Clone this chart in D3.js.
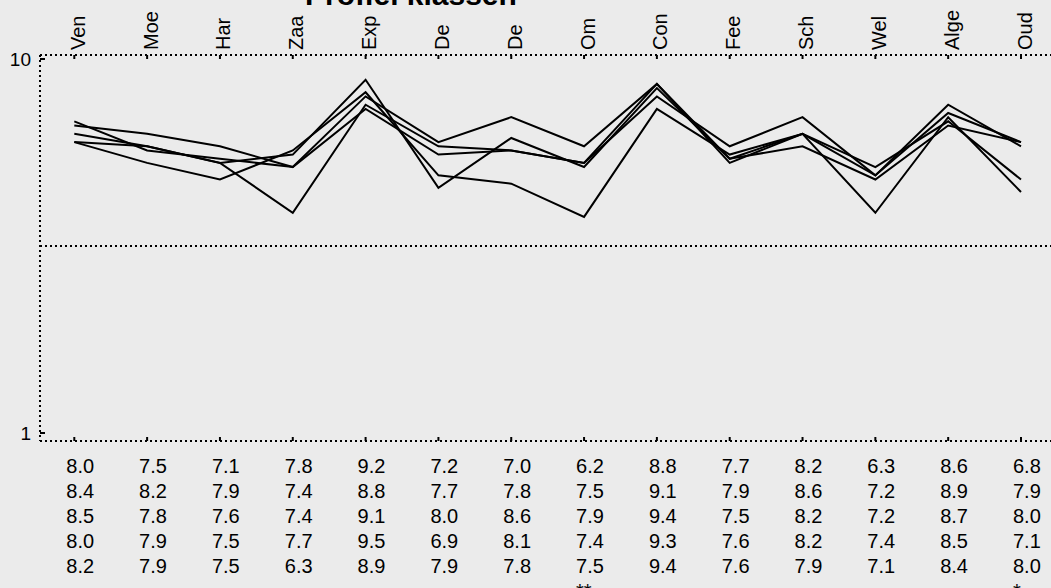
<!DOCTYPE html>
<html>
<head>
<meta charset="utf-8">
<script src="https://cdn.jsdelivr.net/npm/d3@7"></script>
<style>
  body { margin: 0; background: #ebebeb; overflow: hidden; }
  text { font-family: "Liberation Sans", Arial, sans-serif; fill: #000; }
</style>
</head>
<body>
<script>
// categories (two columns share the label "De")
var categories = ["Ven", "Moe", "Har", "Zaa", "Exp", "De", "De", "Om", "Con", "Fee", "Sch", "Wel", "Alge", "Oud"];

// one array per class
var klas1 = [8.0, 7.5, 7.1, 7.8, 9.2, 7.2, 7.0, 6.2, 8.8, 7.7, 8.2, 6.3, 8.6, 6.8];
var klas2 = [8.4, 8.2, 7.9, 7.4, 8.8, 7.7, 7.8, 7.5, 9.1, 7.9, 8.6, 7.2, 8.9, 7.9];
var klas3 = [8.5, 7.8, 7.6, 7.4, 9.1, 8.0, 8.6, 7.9, 9.4, 7.5, 8.2, 7.2, 8.7, 8.0];
var klas4 = [8.0, 7.9, 7.5, 7.7, 9.5, 6.9, 8.1, 7.4, 9.3, 7.6, 8.2, 7.4, 8.5, 7.1];
var klas5 = [8.2, 7.9, 7.5, 6.3, 8.9, 7.9, 7.8, 7.5, 9.4, 7.6, 7.9, 7.1, 8.4, 8.0];

// significance marks under the table
var sterren = ["", "", "", "", "", "", "", "**", "", "", "", "", "", "*"];

var yTicks = [1, 10];
var gridValue = 5.5;

var series = [klas1, klas2, klas3, klas4, klas5];

const w = 1051;
const h = 588;
const pLeft = 40, pTop = 55, pBottom = 441, pRight = 1062;

const svg = d3.select("body")
  .append("svg")
  .attr("width", w)
  .attr("height", h);

const x = d3.scalePoint()
  .domain(d3.range(categories.length))
  .range([74.3, 1021]);

const y = d3.scaleLinear()
  .domain([1, 10])
  .range([433, 59]);

// title, mostly off the top of the page
svg.append("text")
  .attr("x", 411)
  .attr("y", 5)
  .attr("text-anchor", "middle")
  .style("font-size", "30px")
  .style("font-weight", "bold")
  .text("Profiel klassen");

// dotted frame
const dotted = (x1, y1, x2, y2) => {
  svg.append("line")
    .attr("x1", x1).attr("y1", y1)
    .attr("x2", x2).attr("y2", y2)
    .attr("stroke", "#000")
    .attr("stroke-width", 2)
    .attr("stroke-dasharray", "2,3");
};
dotted(pLeft, pTop, pRight, pTop);
dotted(pLeft, pBottom, pRight, pBottom);
dotted(pLeft, pTop, pLeft, pBottom);
dotted(pLeft, y(gridValue), pRight, y(gridValue));

// category ticks, top and bottom
svg.selectAll(".tt")
  .data(categories)
  .enter()
  .append("line")
  .attr("x1", (d, i) => x(i)).attr("x2", (d, i) => x(i))
  .attr("y1", pTop).attr("y2", pTop + 4)
  .attr("stroke", "#000").attr("stroke-width", 2);

svg.selectAll(".bt")
  .data(categories)
  .enter()
  .append("line")
  .attr("x1", (d, i) => x(i)).attr("x2", (d, i) => x(i))
  .attr("y1", pBottom).attr("y2", pBottom - 4)
  .attr("stroke", "#000").attr("stroke-width", 2);

// rotated category labels
svg.selectAll(".cat")
  .data(categories)
  .enter()
  .append("text")
  .attr("transform", (d, i) => "translate(" + (x(i) + 10.5) + ",50) rotate(-90)")
  .attr("text-anchor", "start")
  .style("font-size", "20px")
  .text(d => d);

// y ticks and labels
svg.selectAll(".yt")
  .data(yTicks)
  .enter()
  .append("line")
  .attr("x1", pLeft).attr("x2", pLeft + 5)
  .attr("y1", d => y(d)).attr("y2", d => y(d))
  .attr("stroke", "#000").attr("stroke-width", 2);

svg.selectAll(".yl")
  .data(yTicks)
  .enter()
  .append("text")
  .attr("x", 31)
  .attr("y", d => y(d))
  .attr("dy", "0.35em")
  .attr("text-anchor", "end")
  .style("font-size", "19px")
  .text(d => d);

// profile lines
const line = d3.line()
  .x((d, i) => x(i))
  .y(d => y(d));

svg.selectAll(".klas")
  .data(series)
  .enter()
  .append("path")
  .attr("d", line)
  .attr("fill", "none")
  .attr("stroke", "#000")
  .attr("stroke-width", 2);

// value table under the plot
series.forEach((s, r) => {
  svg.selectAll(".row" + r)
    .data(s)
    .enter()
    .append("text")
    .attr("x", (d, i) => x(i) - 8)
    .attr("y", 473 + r * 25)
    .style("font-size", "20px")
    .text(d => d.toFixed(1));
});

svg.selectAll(".ster")
  .data(sterren)
  .enter()
  .append("text")
  .attr("x", (d, i) => x(i) - 8)
  .attr("y", 598)
  .style("font-size", "20px")
  .text(d => d);
</script>
</body>
</html>
